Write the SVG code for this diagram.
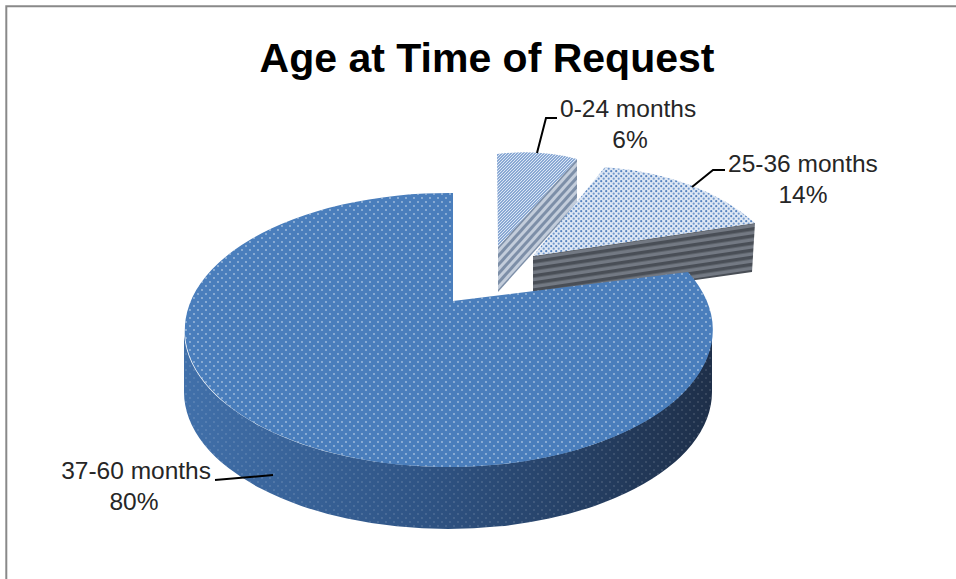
<svg xmlns="http://www.w3.org/2000/svg" width="956" height="579" viewBox="0 0 956 579">
  <style>
    .lbl { font-family: "Liberation Sans", Arial, sans-serif; font-size: 24.5px; fill: #262626; }
    .title { font-family: "Liberation Sans", Arial, sans-serif; font-size: 41px; font-weight: bold; fill: #000; }
    .leader { fill: none; stroke: #000; stroke-width: 2; }
  </style>
  <defs>
    <pattern id="dots" width="8" height="8" patternUnits="userSpaceOnUse">
      <circle cx="2" cy="2" r="0.9" fill="#fff" fill-opacity="0.5"/>
      <circle cx="6" cy="6" r="0.9" fill="#fff" fill-opacity="0.5"/>
    </pattern>
    <pattern id="dotsDim" width="8" height="8" patternUnits="userSpaceOnUse">
      <circle cx="2" cy="2" r="0.8" fill="#fff" fill-opacity="0.25"/>
      <circle cx="6" cy="6" r="0.8" fill="#fff" fill-opacity="0.25"/>
    </pattern>
    <pattern id="weave" width="3" height="3" patternUnits="userSpaceOnUse">
      <rect width="3" height="3" fill="#8aa9d4"/>
      <path d="M0 3 L3 0" stroke="#e6eef8" stroke-width="0.9"/>
    </pattern>
    <pattern id="confetti" width="5" height="5" patternUnits="userSpaceOnUse">
      <rect width="5" height="5" fill="#dfe8f4"/>
      <circle cx="1.2" cy="1.2" r="1.1" fill="#5482bf"/>
      <circle cx="3.7" cy="3.7" r="1.1" fill="#7198cd"/>
    </pattern>
    <pattern id="stripesA" width="6" height="6" patternUnits="userSpaceOnUse" patternTransform="rotate(-48)">
      <rect width="6" height="6" fill="#c3cddb"/>
      <rect width="6" height="3" fill="#7d8fa8"/>
    </pattern>
    <pattern id="stripesB" width="7" height="7" patternUnits="userSpaceOnUse" patternTransform="rotate(-8.5)">
      <rect width="7" height="7" fill="#737983"/>
      <rect width="7" height="3.5" fill="#494e56"/>
    </pattern>
    <linearGradient id="wall" x1="184" y1="0" x2="712" y2="0" gradientUnits="userSpaceOnUse">
      <stop offset="0" stop-color="#4170aa"/>
      <stop offset="0.45" stop-color="#2f5485"/>
      <stop offset="1" stop-color="#1e2f49"/>
    </linearGradient>
  </defs>

  <rect width="956" height="579" fill="#fff"/>
  <path d="M6.3 579 V6.3 H956" fill="none" stroke="#898989" stroke-width="2"/>

  <text class="title" x="487" y="72" text-anchor="middle">Age at Time of Request</text>

  <g id="slice-0-24">
    <path d="M577 159 L498 247 L498 292 L577 204 Z" fill="url(#stripesA)"/>
    <path d="M498 247 L497 154 Q540 149 577 159 Z" fill="url(#weave)"/>
  </g>

  <g id="slice-25-36">
    <path d="M533 256 L755 223 L752 272 L533 303 Z" fill="url(#stripesB)"/>
    <path d="M533 256 L605 167 Q700 175 755 223 Z" fill="url(#confetti)"/>
  </g>

  <g id="slice-37-60">
    <path d="M184 330 A264 137 0 0 0 712 330 L712 392 A264 137 0 0 1 184 392 Z" fill="url(#wall)"/>
    <path d="M184 330 A264 137 0 0 0 712 330 L712 392 A264 137 0 0 1 184 392 Z" fill="url(#dotsDim)"/>
    <path d="M453 301 L453 193 A264 137 0 1 0 688 272 Z" fill="#4a7ebc"/>
    <path d="M453 301 L453 193 A264 137 0 1 0 688 272 Z" fill="url(#dots)"/>
  </g>

  <g id="connectors">
    <polyline class="leader" points="537,153 546,118 557,118"/>
    <polyline class="leader" points="692,187 713,170 725,170"/>
    <polyline class="leader" points="215,480 273,475"/>
  </g>

  <g id="labels">
    <text class="lbl" x="560" y="117">0-24 months</text>
    <text class="lbl" x="630" y="148" text-anchor="middle">6%</text>
    <text class="lbl" x="728" y="172">25-36 months</text>
    <text class="lbl" x="803" y="203" text-anchor="middle">14%</text>
    <text class="lbl" x="211" y="479" text-anchor="end">37-60 months</text>
    <text class="lbl" x="134" y="510" text-anchor="middle">80%</text>
  </g>
</svg>
